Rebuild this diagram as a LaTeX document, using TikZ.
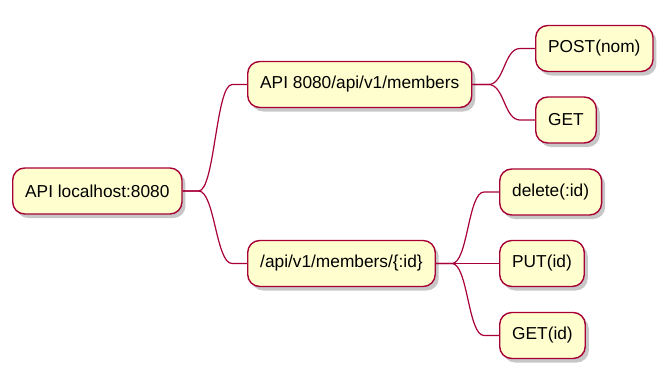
\documentclass[tikz,border=0pt]{standalone}
\usepackage{fontspec}
\setmainfont{Liberation Sans}
\usetikzlibrary{calc, shadows}
\definecolor{mapfill}{HTML}{FEFECE}
\definecolor{mapline}{HTML}{A80036}

\begin{document}
\begin{tikzpicture}[
  x=1pt, y=-1pt,
  topic/.style={draw=mapline, fill=mapfill, rounded corners=12pt,
    line width=1.4pt, minimum height=46pt, inner xsep=12.5pt, anchor=west,
    font=\fontsize{17.3}{20}\selectfont,
    drop shadow={shadow xshift=3.5pt, shadow yshift=-4pt, fill=black, opacity=.22}},
  branch/.style={draw=mapline, line width=1.2pt,
    to path={-- ++(16pt,0) .. controls +(16pt,0) and +(-16pt,0)
      .. ($(\tikztotarget)+(-15pt,0)$) -- (\tikztotarget)}},
]
  \useasboundingbox (0,0) rectangle (666,372);

  \node[topic] (root)    at (12,191)    {API localhost:8080};
  \node[topic] (members) at (247,84.5)  {API 8080/api/v1/members};
  \node[topic] (member)  at (247,263.5) {/api/v1/members/\{:id\}};
  \node[topic] (post)    at (535,48.5)  {POST(nom)};
  \node[topic] (getall)  at (535,120)   {GET};
  \node[topic] (delete)  at (499,192)   {delete(:id)};
  \node[topic] (put)     at (499,263.5) {PUT(id)};
  \node[topic] (getone)  at (499,335.5) {GET(id)};

  \draw[branch] (root.east) to (members.west);
  \draw[branch] (root.east) to (member.west);
  \draw[branch] (members.east) to (post.west);
  \draw[branch] (members.east) to (getall.west);
  \draw[branch] (member.east) to (delete.west);
  \draw[branch] (member.east) to (put.west);
  \draw[branch] (member.east) to (getone.west);
\end{tikzpicture}
\end{document}
